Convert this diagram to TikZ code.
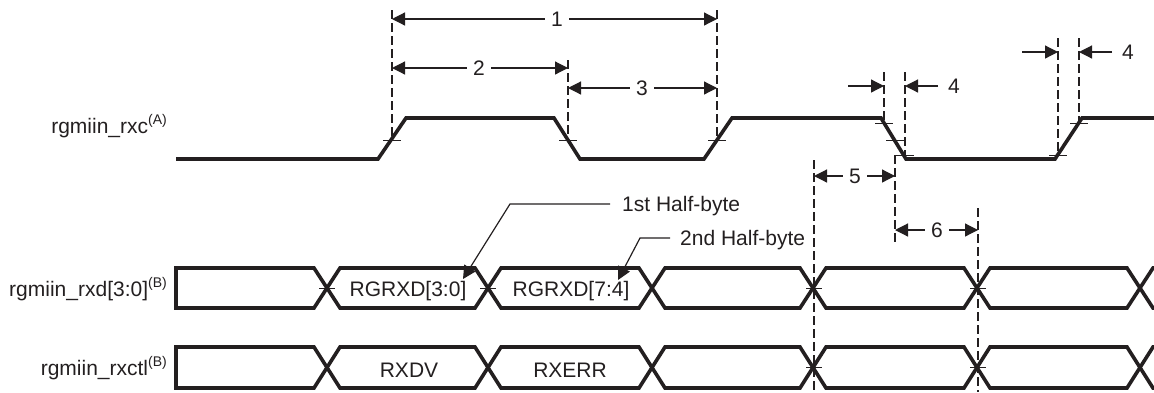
\documentclass[tikz,border=0pt]{standalone}
\usepackage{fontspec}
\setmainfont{Liberation Sans}
\usetikzlibrary{arrows.meta}
\definecolor{ink}{HTML}{231F20}
\newcommand\mysup[1]{\raisebox{9pt}{\fontsize{14}{14}\selectfont #1}}
\begin{document}
\begin{tikzpicture}[x=1pt,y=-1pt,
 sig/.style={line width=3.6pt, draw=ink, line join=miter},
 dimline/.style={line width=1.2pt, draw=ink},
 guide/.style={line width=1.2pt, draw=ink, dash pattern=on 9pt off 4pt},
 tipr/.style={-{Triangle[length=13pt,width=13pt]}},
 tipb/.style={{Triangle[length=13pt,width=13pt]}-{Triangle[length=13pt,width=13pt]}},
 lbl/.style={font=\fontsize{21}{24}\selectfont, text=ink, inner sep=0pt},
 dimlbl/.style={lbl, fill=white, inner xsep=6pt, inner ysep=2pt},
 tick/.style={line width=1pt, draw=ink}]
\useasboundingbox (0,0) rectangle (1154,392);

% ---------- clock ----------
\draw[sig] (176,159) -- (378,159) -- (406,118) -- (554,118) -- (580,159) -- (704,159)
  -- (732,118) -- (881,118) -- (906,159) -- (1055,159) -- (1082,118) -- (1160,118);

% tick marks on clock edges
\foreach \x/\y in {392/140, 568/140, 717/140, 884/123, 895/140, 905/155, 1058/155, 1079/123}
  \draw[tick] (\x-9,\y) -- (\x+9,\y);

% ---------- guides ----------
\draw[guide] (392,10) -- (392,140);
\draw[guide] (568,60) -- (568,140);
\draw[guide] (717,10) -- (717,140);
\draw[guide] (884,72) -- (884,123);
\draw[guide] (905,72) -- (905,155);
\draw[guide] (1058,38) -- (1058,155);
\draw[guide] (1079,38) -- (1079,123);
\draw[guide] (895,155) -- (895,245);
\draw[guide] (814,160) -- (814,392);
\draw[guide] (978,208) -- (978,392);

% ---------- dimensions ----------
\coordinate (d1a) at (392,19); \coordinate (d1b) at (717,19);
\draw[dimline,tipb] (d1a) -- (d1b);
\node[dimlbl] (n1) at (557,19) {1};
\coordinate (d2a) at (392,68); \coordinate (d2b) at (568,68);
\draw[dimline,tipb] (d2a) -- (d2b);
\node[dimlbl] (n2) at (479,68) {2};
\coordinate (d3a) at (568,88); \coordinate (d3b) at (717,88);
\draw[dimline,tipb] (d3a) -- (d3b);
\node[dimlbl] (n3) at (642,88) {3};
\coordinate (d5a) at (814,176); \coordinate (d5b) at (895,176);
\draw[dimline,tipb] (d5a) -- (d5b);
\node[dimlbl] (n5) at (855,176) {5};
\coordinate (d6a) at (895,230); \coordinate (d6b) at (978,230);
\draw[dimline,tipb] (d6a) -- (d6b);
\node[dimlbl] (n6) at (937,230) {6};

\coordinate (e1s) at (848,86); \coordinate (e1t) at (884,86);
\coordinate (e2s) at (938,86); \coordinate (e2t) at (905,86);
\draw[dimline,tipr] (e1s) -- (e1t);
\draw[dimline,tipr] (e2s) -- (e2t);
\node[lbl] (n4a) at (954,86) {4};
\coordinate (f1s) at (1022,52); \coordinate (f1t) at (1058,52);
\coordinate (f2s) at (1112,52); \coordinate (f2t) at (1079,52);
\draw[dimline,tipr] (f1s) -- (f1t);
\draw[dimline,tipr] (f2s) -- (f2t);
\node[lbl] (n4b) at (1128,52) {4};

% ---------- buses ----------
\foreach \T/\B in {268/308, 347/388}{
  \draw[sig] (176,\B) -- (176,\T) -- (314,\T) -- (340,\B) -- (475,\B) -- (501,\T) -- (639,\T)
    -- (665,\B) -- (800,\B) -- (826,\T) -- (964,\T) -- (990,\B) -- (1127,\B) -- (1153,\T) -- (1160,\T);
  \draw[sig] (176,\T) -- (176,\B) -- (314,\B) -- (340,\T) -- (475,\T) -- (501,\B) -- (639,\B)
    -- (665,\T) -- (800,\T) -- (826,\B) -- (964,\B) -- (990,\T) -- (1127,\T) -- (1153,\B) -- (1160,\B);
}
\foreach \x/\y in {327/288, 488/288, 814/288, 978/288, 814/367.5, 978/367.5}
  \draw[tick] (\x-8,\y) -- (\x+8,\y);

% ---------- texts ----------
\node[lbl, anchor=base east] (lrxc) at (167,133) {rgmiin\_rxc\mysup{(A)}};
\node[lbl, anchor=base east] (lrxd) at (167,296) {rgmiin\_rxd[3:0]\mysup{(B)}};
\node[lbl, anchor=base east] (lctl) at (167,375) {rgmiin\_rxctl\mysup{(B)}};

\node[lbl, anchor=base] (b1) at (408,296) {RGRXD[3:0]};
\node[lbl, anchor=base] (b2) at (571,296) {RGRXD[7:4]};
\node[lbl, anchor=base] (c1) at (409,377) {RXDV};
\node[lbl, anchor=base] (c2) at (570,377) {RXERR};

\node[lbl, anchor=base west] (h1) at (622,211) {1st Half-byte};
\node[lbl, anchor=base west] (h2) at (680,245) {2nd Half-byte};
\coordinate (h1k) at (510,204); \coordinate (h1t) at (463,279);
\coordinate (h2k) at (640,238); \coordinate (h2t) at (618,280);
\draw[dimline,tipr] ([xshift=-12pt]h1.west |- h1k) -- (h1k) -- (h1t);
\draw[dimline,tipr] ([xshift=-10pt]h2.west |- h2k) -- (h2k) -- (h2t);
\end{tikzpicture}
\end{document}
